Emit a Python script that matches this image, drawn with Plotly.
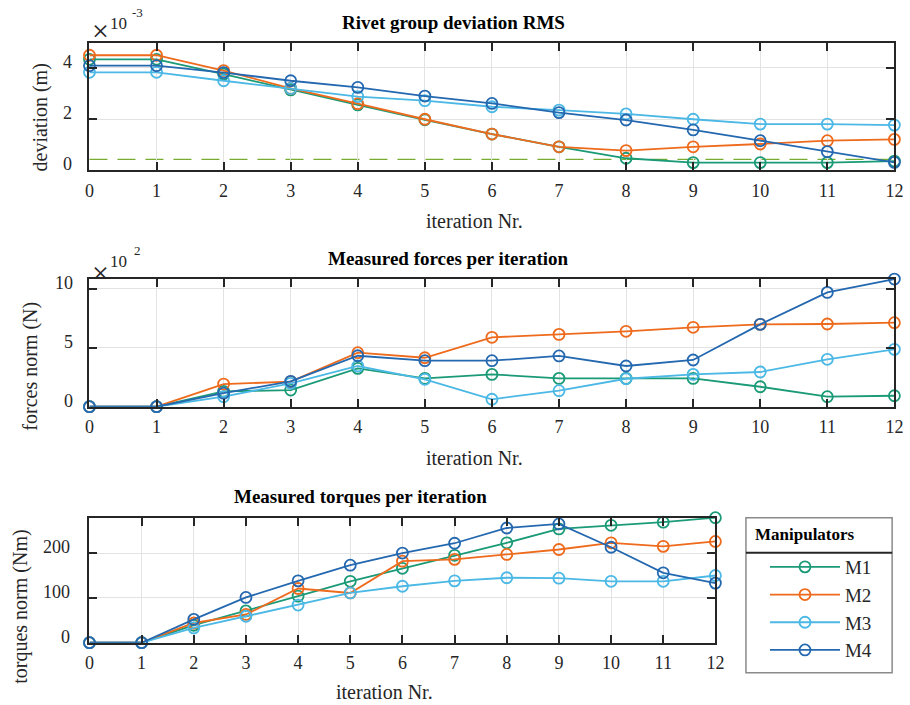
import plotly.graph_objects as go

W, H = 910, 705          # final figure size; all positions are given in this frame
INIT_W, INIT_H = W - 16, H - 16   # initial size fits inside the default 8px body margins

iterations = list(range(13))
series_names = ["M1", "M2", "M3", "M4"]
series_colors = ["#1A9A76", "#EE6A1C", "#4BB8E5", "#2468B0"]

# Rivet group deviation RMS (m)
deviation_M1 = [0.00434, 0.00434, 0.00376, 0.00314, 0.00255, 0.00197, 0.00141, 0.00091, 0.00046, 0.00029, 0.00029, 0.00029, 0.00035]
deviation_M2 = [0.00450, 0.00450, 0.00390, 0.00320, 0.00260, 0.00199, 0.00141, 0.00091, 0.00076, 0.00091, 0.00102, 0.00115, 0.00120]
deviation_M3 = [0.00383, 0.00383, 0.00350, 0.00320, 0.00288, 0.00272, 0.00248, 0.00235, 0.00220, 0.00199, 0.00180, 0.00180, 0.00176]
deviation_M4 = [0.00409, 0.00409, 0.00382, 0.00350, 0.00324, 0.00290, 0.00261, 0.00225, 0.00196, 0.00157, 0.00115, 0.00072, 0.00030]
deviation_threshold = 0.00042

# Measured forces norm (N)
force_M1 = [0, 0, 130, 141, 325, 240, 274, 240, 240, 240, 169, 85, 93]
force_M2 = [0, 0, 192, 212, 458, 415, 588, 613, 639, 673, 698, 701, 712]
force_M3 = [0, 0, 85, 198, 345, 232, 63, 136, 237, 274, 294, 402, 486]
force_M4 = [0, 0, 115, 215, 432, 390, 390, 430, 345, 396, 698, 969, 1082]

# Measured torques norm (Nm)
torque_M1 = [0, 0, 39, 71, 104, 137, 166, 195, 223, 254, 262, 269, 279]
torque_M2 = [0, 0, 44, 63, 121, 111, 182, 186, 197, 208, 223, 215, 226]
torque_M3 = [0, 0, 33, 59, 84, 111, 126, 138, 145, 144, 137, 137, 150]
torque_M4 = [0, 0, 52, 101, 138, 173, 200, 222, 256, 265, 213, 156, 133]

dev_ticks = [0, 0.002, 0.004]
dev_ticktext = ["0", "2", "4"]
force_ticks = [0, 500, 1000]
force_ticktext = ["0", "5", "10"]
torque_ticks = [0, 100, 200]
torque_ticktext = ["0", "100", "200"]

deviation = [deviation_M1, deviation_M2, deviation_M3, deviation_M4]
forces = [force_M1, force_M2, force_M3, force_M4]
torques = [torque_M1, torque_M2, torque_M3, torque_M4]

FONT = "Liberation Serif"
AX = "#262626"


def px(x):
    return x / W


def py(y):
    return 1 - y / H


fig = go.Figure()

panels = [("x", "y", deviation, False), ("x2", "y2", forces, False), ("x3", "y3", torques, True)]
for xa, ya, data, show in panels:
    for name, color, vals in zip(series_names, series_colors, data):
        fig.add_trace(go.Scatter(
            x=iterations, y=vals, name=name, xaxis=xa, yaxis=ya,
            mode="lines+markers", showlegend=show, cliponaxis=False,
            line=dict(color=color, width=1.8),
            marker=dict(symbol="circle-open", size=11, color=color, line=dict(width=1.8)),
        ))

axis_common = dict(
    showline=True, linecolor=AX, linewidth=2, mirror="ticks",
    ticks="inside", ticklen=8, tickwidth=2, tickcolor=AX,
    showgrid=True, gridcolor="#E3E3E3", gridwidth=1, zeroline=False,
    tickfont=dict(family=FONT, size=18, color=AX),
)
x_common = dict(range=[0, 12], tickvals=iterations, ticklabelstandoff=3, **axis_common)
y_common = dict(showticklabels=False, **axis_common)

xdom_full = [px(86.7), px(903.3)]
xdom_short = [px(86.7), px(721.7)]

fig.update_layout(
    width=INIT_W, height=INIT_H,
    margin=dict(l=0, r=0, t=0, b=0),
    paper_bgcolor="white", plot_bgcolor="white",
    font=dict(family=FONT, color=AX),
    showlegend=True,
    xaxis=dict(domain=xdom_full, anchor="y", **x_common),
    yaxis=dict(domain=[py(170), py(43)], anchor="x", range=[0, 0.00498],
               tickvals=dev_ticks, **y_common),
    xaxis2=dict(domain=xdom_full, anchor="y2", **x_common),
    yaxis2=dict(domain=[py(406.7), py(278.7)], anchor="x2", range=[0, 1085],
                tickvals=force_ticks, **y_common),
    xaxis3=dict(domain=xdom_short, anchor="y3", **x_common),
    yaxis3=dict(domain=[py(642.7), py(517.7)], anchor="x3", range=[0, max(torque_M1)],
                tickvals=torque_ticks, **y_common),
    legend=dict(x=px(772), y=py(548), xanchor="left", yanchor="top",
                bgcolor="rgba(0,0,0,0)", borderwidth=0, itemwidth=70,
                font=dict(family=FONT, size=19, color=AX), traceorder="normal"),
)

# y tick labels, placed on the axes' own scales (raised slightly, as in the original)
for xdom, yref, vals, texts, gap in [("x domain", "y", dev_ticks, dev_ticktext, 15),
                                     ("x2 domain", "y2", force_ticks, force_ticktext, 14),
                                     ("x3 domain", "y3", torque_ticks, torque_ticktext, 17)]:
    for v, t in zip(vals, texts):
        fig.add_annotation(text=t, xref=xdom, x=0, yref=yref, y=v, showarrow=False,
                           xanchor="right", yanchor="middle", xshift=-gap, yshift=6,
                           font=dict(family=FONT, size=18, color=AX))

# threshold line in the deviation panel
fig.add_shape(type="line", xref="x domain", yref="y", x0=0, x1=1,
              y0=deviation_threshold, y1=deviation_threshold,
              line=dict(color="#77AC30", width=1.2, dash="18px,10px"), layer="below")

# legend box and separator
fig.add_shape(type="rect", xref="paper", yref="paper", x0=px(752.7), x1=px(901),
              y0=py(672.7), y1=py(517.7), line=dict(color="#8A8A8A", width=1.5))
fig.add_shape(type="line", xref="paper", yref="paper", x0=px(752.7), x1=px(901),
              y0=py(552.7), y1=py(552.7), line=dict(color=AX, width=2))


def ann(text, x, y, size, bold=False, angle=0, xanchor="center", color="black"):
    fig.add_annotation(
        text=f"<b>{text}</b>" if bold else text, x=px(x), y=py(y), xref="paper", yref="paper",
        showarrow=False, xanchor=xanchor, yanchor="middle", textangle=angle,
        font=dict(family=FONT, size=size, color=color),
    )


ann("Manipulators", 760, 534, 17, bold=True, xanchor="left")

# titles
ann("Rivet group deviation RMS", 456.5, 22, 19, bold=True)
ann("Measured forces per iteration", 451, 258, 19, bold=True)
ann("Measured torques per iteration", 361.5, 496, 19, bold=True)

# x axis titles
ann("iteration Nr.", 477.5, 221, 20, color=AX)
ann("iteration Nr.", 477.5, 458, 20, color=AX)
ann("iteration Nr.", 386, 692, 20, color=AX)

# y axis titles
ann("deviation (m)", 37, 117, 20, angle=-90, color=AX)
ann("forces norm (N)", 26, 366, 20, angle=-90, color=AX)
ann("torques norm (Nm)", 16, 607, 20, angle=-90, color=AX)

# exponent labels
for (yx, y10, yexp, exp) in [(31, 23, 12, "-3"), (272, 261, 250, "2")]:
    ann("×", 98, yx, 30, color=AX)
    ann("10", 116, y10, 17, color=AX)
    ann(exp, 135, yexp, 13, color=AX)

# drop the page margins, then grow the figure to the full window
post = (
    "document.body.style.margin='0';"
    "var gd=document.getElementById('{plot_id}');"
    "gd.style.width='%dpx';gd.style.height='%dpx';"
    "Plotly.relayout(gd,{width:%d,height:%d});" % (W, H, W, H)
)

fig.write_html("out.html", config={"displayModeBar": False}, post_script=post)
